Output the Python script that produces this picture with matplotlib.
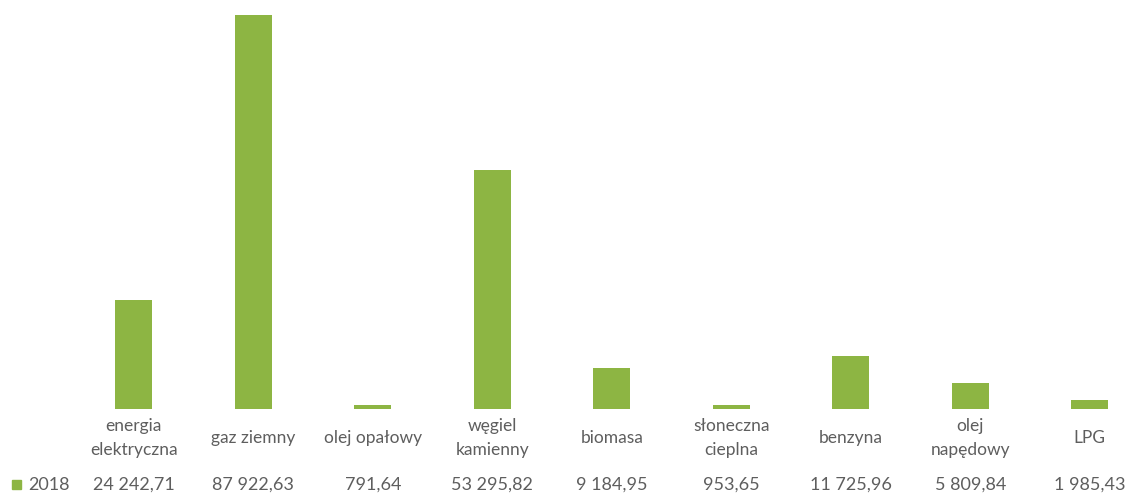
import matplotlib
matplotlib.use("Agg")
from matplotlib import pyplot as plt

# Energy consumption by carrier, 2018
categories = ["energia\nelektryczna", "gaz ziemny", "olej opałowy", "węgiel\nkamienny",
              "biomasa", "słoneczna\ncieplna", "benzyna", "olej\nnapędowy", "LPG"]
values_2018 = [24242.71, 87922.63, 791.64, 53295.82, 9184.95, 953.65, 11725.96, 5809.84, 1985.43]
series_name = "2018"

BAR_COLOR = "#8db543"
TEXT_COLOR = "#5e5e5e"

plt.rcParams['font.family'] = ['Lato', 'DejaVu Sans']


def fmt_pl(v):
    # Polish style: space as thousands separator, comma as decimal point
    s = f"{v:,.2f}"
    return s.replace(",", " ").replace(".", ",")


def main():
    W, H = 1128, 493
    fig = plt.figure(figsize=(W / 100, H / 100), dpi=100)
    base_px = 409
    left_px = 74
    ax = fig.add_axes([left_px / W, (H - base_px) / H, (W - left_px) / W, base_px / H])

    x = list(range(len(categories)))
    ax.bar(x, values_2018, width=0.31, color=BAR_COLOR)
    ax.set_xlim(-0.5, -0.5 + (W - left_px) / 119.5)
    ax.set_ylim(0, 87922.63 * 409 / 394)
    ax.axis('off')

    trans = ax.get_xaxis_transform()
    for xi, cat, val in zip(x, categories, values_2018):
        ax.text(xi, -(438 - base_px) / base_px, cat, transform=trans, ha='center', va='center',
                fontsize=12.5, color=TEXT_COLOR, linespacing=1.55, clip_on=False)
        ax.text(xi, -(485 - base_px) / base_px, fmt_pl(val), transform=trans, ha='center',
                va='center', fontsize=13, color=TEXT_COLOR, clip_on=False)

    # legend key in the value row
    fig.patches.append(plt.Rectangle((12 / W, (H - 489) / H), 9 / W, 9 / H,
                                     transform=fig.transFigure, color=BAR_COLOR))
    fig.text(28 / W, (H - 485) / H, series_name, ha='left', va='center',
             fontsize=13, color=TEXT_COLOR)

    fig.savefig("out.png", dpi=100)


if __name__ == "__main__":
    main()
